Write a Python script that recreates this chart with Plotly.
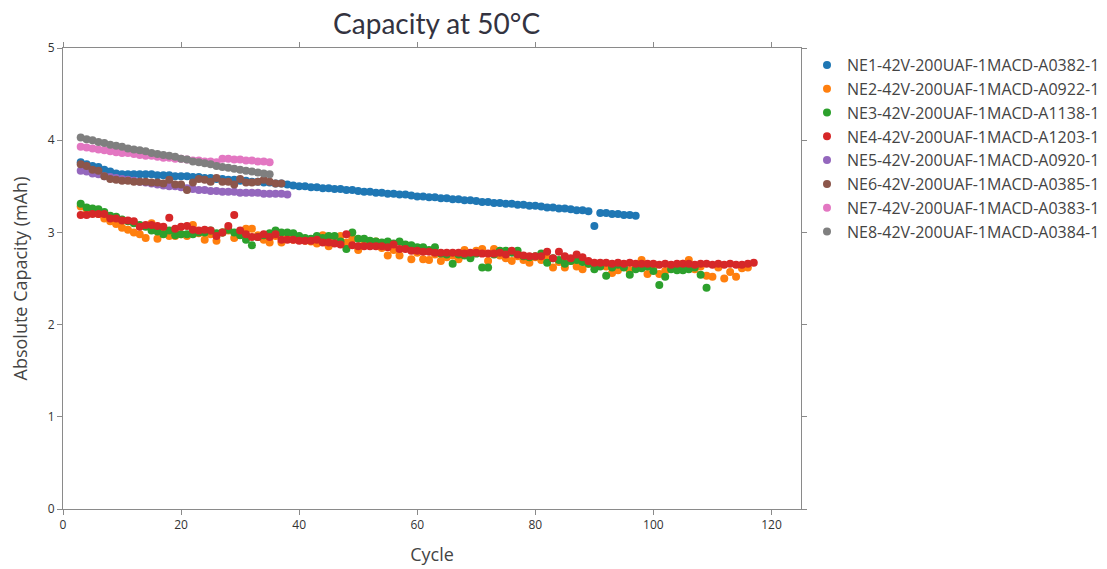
import plotly.graph_objects as go

names = [
    "NE1-42V-200UAF-1MACD-A0382-1",
    "NE2-42V-200UAF-1MACD-A0922-1",
    "NE3-42V-200UAF-1MACD-A1138-1",
    "NE4-42V-200UAF-1MACD-A1203-1",
    "NE5-42V-200UAF-1MACD-A0920-1",
    "NE6-42V-200UAF-1MACD-A0385-1",
    "NE7-42V-200UAF-1MACD-A0383-1",
    "NE8-42V-200UAF-1MACD-A0384-1",
]
colors = ["#1f77b4", "#ff7f0e", "#2ca02c", "#d62728", "#9467bd", "#8c564b", "#e377c2", "#7f7f7f"]

# first cycle for every series is 3
start_cycle = 3

ne1 = [3.76, 3.74, 3.72, 3.71, 3.68, 3.66, 3.64, 3.63, 3.63, 3.63, 3.63, 3.63, 3.63, 3.62, 3.62,
       3.62, 3.61, 3.61, 3.61, 3.60, 3.60, 3.59, 3.59, 3.58, 3.58, 3.57, 3.57, 3.56, 3.56, 3.55,
       3.55, 3.54, 3.54, 3.53, 3.53, 3.52, 3.51, 3.50, 3.50, 3.49, 3.49, 3.48, 3.48, 3.47, 3.47,
       3.46, 3.46, 3.45, 3.44, 3.44, 3.43, 3.43, 3.42, 3.42, 3.41, 3.41, 3.40, 3.39, 3.39, 3.38,
       3.38, 3.37, 3.37, 3.36, 3.36, 3.35, 3.35, 3.34, 3.33, 3.33, 3.32, 3.32, 3.31, 3.31, 3.30,
       3.30, 3.29, 3.29, 3.28, 3.27, 3.27, 3.26, 3.26, 3.25, 3.24, 3.24, 3.23, 3.07, 3.21, 3.21,
       3.20, 3.20, 3.19, 3.19, 3.18]

ne2 = [3.28, 3.25, 3.22, 3.20, 3.15, 3.12, 3.09, 3.05, 3.03, 3.00, 2.98, 2.94, 3.10, 2.93, 3.00,
       2.96, 2.96, 2.98, 2.96, 3.08, 2.99, 2.92, 2.98, 2.91, 3.00, 3.02, 2.94, 3.00, 3.04, 3.04,
       2.97, 2.92, 2.89, 2.96, 2.89, 2.94, 2.92, 2.92, 2.91, 2.90, 2.88, 2.97, 2.85, 2.92, 2.96,
       2.89, 2.93, 2.81, 2.87, 2.86, 2.90, 2.83, 2.75, 2.81, 2.75, 2.86, 2.71, 2.78, 2.71, 2.70,
       2.76, 2.69, 2.73, 2.75, 2.71, 2.81, 2.74, 2.80, 2.82, 2.69, 2.82, 2.75, 2.72, 2.69, 2.74,
       2.70, 2.67, 2.73, 2.70, 2.72, 2.62, 2.68, 2.62, 2.69, 2.63, 2.60, 2.66, 2.64, 2.66, 2.63,
       2.56, 2.59, 2.64, 2.59, 2.64, 2.70, 2.55, 2.62, 2.55, 2.58, 2.62, 2.64, 2.66, 2.70, 2.60,
       2.63, 2.53, 2.52, 2.62, 2.50, 2.57, 2.52, 2.61, 2.62]

ne3 = [3.31, 3.27, 3.26, 3.25, 3.22, 3.18, 3.17, 3.14, 3.12, 3.10, 3.08, 3.06, 3.02, 3.01, 2.98,
       3.02, 2.97, 2.98, 2.98, 2.98, 3.00, 3.00, 3.02, 2.99, 3.00, 3.03, 3.00, 2.97, 2.92, 2.86,
       2.95, 2.97, 2.99, 3.02, 3.00, 3.00, 2.99, 2.96, 2.94, 2.93, 2.96, 2.94, 2.96, 2.96, 2.90,
       2.82, 3.00, 2.93, 2.93, 2.91, 2.90, 2.89, 2.90, 2.88, 2.90, 2.87, 2.86, 2.84, 2.84, 2.81,
       2.84, 2.77, 2.76, 2.66, 2.76, 2.75, 2.72, 2.77, 2.62, 2.62, 2.76, 2.80, 2.80, 2.78, 2.80,
       2.74, 2.73, 2.74, 2.77, 2.67, 2.72, 2.70, 2.66, 2.69, 2.70, 2.68, 2.66, 2.60, 2.63, 2.53,
       2.62, 2.65, 2.62, 2.54, 2.60, 2.61, 2.63, 2.58, 2.43, 2.52, 2.60, 2.59, 2.59, 2.60, 2.62,
       2.54, 2.40]

ne4 = [3.19, 3.19, 3.20, 3.20, 3.20, 3.15, 3.15, 3.13, 3.13, 3.12, 3.06, 3.08, 3.08, 3.07, 3.06,
       3.16, 3.04, 3.06, 3.07, 3.03, 3.02, 3.03, 3.02, 2.96, 3.00, 3.07, 3.19, 3.02, 2.98, 2.95,
       2.95, 2.98, 2.95, 2.98, 2.92, 2.92, 2.92, 2.91, 2.91, 2.91, 2.92, 2.89, 2.89, 2.88, 2.87,
       2.98, 2.86, 2.85, 2.85, 2.85, 2.85, 2.85, 2.84, 2.87, 2.82, 2.82, 2.80, 2.80, 2.79, 2.79,
       2.78, 2.78, 2.78, 2.78, 2.78, 2.77, 2.78, 2.78, 2.77, 2.77, 2.77, 2.78, 2.76, 2.80, 2.76,
       2.75, 2.74, 2.74, 2.74, 2.79, 2.72, 2.79, 2.74, 2.72, 2.76, 2.73, 2.69, 2.67, 2.67, 2.67,
       2.66, 2.67, 2.66, 2.67, 2.66, 2.66, 2.66, 2.66, 2.65, 2.66, 2.65, 2.66, 2.66, 2.66, 2.65,
       2.66, 2.66, 2.65, 2.66, 2.65, 2.66, 2.65, 2.65, 2.66, 2.67]

ne5 = [3.67, 3.66, 3.64, 3.63, 3.61, 3.60, 3.59, 3.58, 3.57, 3.56, 3.55, 3.54, 3.53, 3.52, 3.51,
       3.50, 3.50, 3.49, 3.48, 3.47, 3.46, 3.46, 3.45, 3.45, 3.44, 3.44, 3.44, 3.43, 3.43, 3.43,
       3.43, 3.42, 3.42, 3.42, 3.42, 3.41]

ne6 = [3.74, 3.72, 3.68, 3.67, 3.61, 3.58, 3.57, 3.56, 3.56, 3.55, 3.55, 3.55, 3.54, 3.54, 3.53,
       3.57, 3.52, 3.52, 3.46, 3.54, 3.58, 3.57, 3.55, 3.59, 3.55, 3.55, 3.52, 3.58, 3.54, 3.54,
       3.55, 3.57, 3.55, 3.53, 3.53]

ne7 = [3.93, 3.92, 3.91, 3.90, 3.89, 3.88, 3.87, 3.86, 3.86, 3.85, 3.84, 3.83, 3.83, 3.82, 3.81,
       3.81, 3.80, 3.80, 3.79, 3.78, 3.78, 3.77, 3.77, 3.76, 3.80, 3.80, 3.79, 3.79, 3.78, 3.78,
       3.77, 3.77, 3.76]

ne8 = [4.03, 4.01, 4.00, 3.98, 3.97, 3.95, 3.94, 3.93, 3.91, 3.90, 3.89, 3.88, 3.86, 3.85, 3.84,
       3.83, 3.82, 3.80, 3.79, 3.77, 3.76, 3.75, 3.74, 3.72, 3.71, 3.70, 3.69, 3.68, 3.67, 3.66,
       3.65, 3.64, 3.63]

series = [ne1, ne2, ne3, ne4, ne5, ne6, ne7, ne8]

fig = go.Figure()
for name, col, vals in zip(names, colors, series):
    cycles = list(range(start_cycle, start_cycle + len(vals)))
    fig.add_trace(go.Scatter(
        x=cycles, y=vals, mode="markers", name=name,
        marker=dict(color=col, size=8),
    ))

axis_common = dict(
    showline=True, linecolor="#8a8a8a", linewidth=1, mirror="ticks",
    ticks="outside", ticklen=5, tickcolor="#8a8a8a",
    showgrid=False, zeroline=False,
    tickfont=dict(family="Open Sans", size=12, color="#333333"),
)

fig.update_layout(
    width=1099, height=561,
    paper_bgcolor="white", plot_bgcolor="white",
    margin=dict(l=55, r=306, t=40, b=60, autoexpand=False),
    title=dict(text="Capacity at 50°C", x=0.39, xanchor="center", y=0.972, yanchor="middle",
               font=dict(family="Lato", size=28, color="#333340")),
    font=dict(family="Open Sans", color="#444444"),
    legend=dict(font=dict(family="Open Sans", size=16, color="#444444"), x=(55 + 738 + 6) / 1099,
                xref="container", xanchor="left", y=1.0,
                yanchor="top", tracegroupgap=0, itemsizing="trace"),
    xaxis=dict(range=[0, 125], dtick=20,
               title=dict(text="Cycle", font=dict(family="Open Sans", size=18, color="#444444")),
               **axis_common),
    yaxis=dict(range=[0, 5], dtick=1,
               title=dict(text="Absolute Capacity (mAh)", font=dict(family="Open Sans", size=18, color="#444444")),
               **axis_common),
)

fig.write_html("out.html")
